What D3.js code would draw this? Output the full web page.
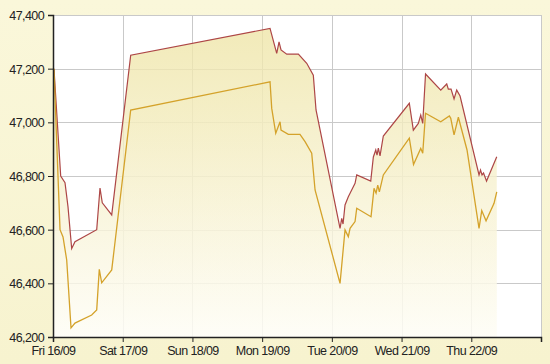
<!DOCTYPE html>
<html>
<head>
<meta charset="utf-8">
<script src="https://cdn.jsdelivr.net/npm/d3@7"></script>
<style>
  html, body { margin: 0; padding: 0; background: #f8f4d2; }
  svg { display: block; }
  .tick text { font-family: "Liberation Sans", Arial, sans-serif; font-size: 12.5px; fill: #222; letter-spacing: -0.6px; }
</style>
</head>
<body>
<svg id="chart" width="550" height="364"></svg>
<script>
// ---- data ----
const dayTicks = ["2016-09-16", "2016-09-17", "2016-09-18", "2016-09-19", "2016-09-20", "2016-09-21", "2016-09-22", "2016-09-23"];
const dayLabels = ["Fri 16/09", "Sat 17/09", "Sun 18/09", "Mon 19/09", "Tue 20/09", "Wed 21/09", "Thu 22/09", ""];
const yTicks = [46200, 46400, 46600, 46800, 47000, 47200, 47400];

const sellTimes = [
  "2016-09-16 00:20", "2016-09-16 02:39", "2016-09-16 04:08", "2016-09-16 05:10", "2016-09-16 06:26",
  "2016-09-16 07:34", "2016-09-16 15:03", "2016-09-16 16:11", "2016-09-16 16:58", "2016-09-16 20:13",
  "2016-09-17 02:45", "2016-09-19 02:43", "2016-09-19 05:01", "2016-09-19 05:49", "2016-09-19 06:30",
  "2016-09-19 08:28", "2016-09-19 12:28", "2016-09-19 15:21", "2016-09-19 17:37", "2016-09-19 18:33",
  "2016-09-20 02:49", "2016-09-20 03:24", "2016-09-20 03:51", "2016-09-20 04:32", "2016-09-20 05:40",
  "2016-09-20 06:16", "2016-09-20 07:59", "2016-09-20 08:34", "2016-09-20 13:23", "2016-09-20 14:17",
  "2016-09-20 15:07", "2016-09-20 15:33", "2016-09-20 16:00", "2016-09-20 16:35", "2016-09-20 17:43",
  "2016-09-21 02:40", "2016-09-21 04:03", "2016-09-21 05:46", "2016-09-21 06:36", "2016-09-21 07:17",
  "2016-09-21 08:15", "2016-09-21 13:29", "2016-09-21 15:33", "2016-09-21 16:06", "2016-09-21 17:02",
  "2016-09-21 18:04", "2016-09-21 18:59", "2016-09-21 20:08", "2016-09-22 02:40", "2016-09-22 03:11",
  "2016-09-22 03:42", "2016-09-22 04:13", "2016-09-22 05:15", "2016-09-22 08:46"
];
const sellValues = [
  47200, 46800, 46775, 46685, 46530,
  46555, 46600, 46755, 46700, 46655,
  47250, 47350, 47257, 47300, 47270,
  47254, 47254, 47220, 47176, 47046,
  46605, 46642, 46621, 46692, 46723,
  46736, 46773, 46804, 46781, 46871,
  46897, 46878, 46904, 46875, 46949,
  47071, 46971, 46996, 47027, 46996,
  47180, 47120, 47143, 47124, 47124,
  47087, 47120, 47098, 46804, 46822,
  46804, 46811, 46781, 46872
];

const buyTimes = [
  "2016-09-16 00:20", "2016-09-16 02:25", "2016-09-16 03:27", "2016-09-16 04:43", "2016-09-16 06:12",
  "2016-09-16 07:34", "2016-09-16 13:19", "2016-09-16 15:03", "2016-09-16 15:56", "2016-09-16 16:46",
  "2016-09-16 20:13", "2016-09-17 02:45", "2016-09-19 02:43", "2016-09-19 03:18", "2016-09-19 04:41",
  "2016-09-19 06:10", "2016-09-19 06:30", "2016-09-19 09:01", "2016-09-19 13:02", "2016-09-19 14:46",
  "2016-09-19 17:04", "2016-09-19 18:13", "2016-09-20 02:49", "2016-09-20 04:32", "2016-09-20 05:40",
  "2016-09-20 06:16", "2016-09-20 07:59", "2016-09-20 08:34", "2016-09-20 13:29", "2016-09-20 14:31",
  "2016-09-20 15:13", "2016-09-20 15:48", "2016-09-20 16:21", "2016-09-20 17:43", "2016-09-21 02:40",
  "2016-09-21 04:07", "2016-09-21 06:36", "2016-09-21 07:17", "2016-09-21 08:15", "2016-09-21 13:29",
  "2016-09-21 16:27", "2016-09-21 16:56", "2016-09-21 18:04", "2016-09-21 19:33", "2016-09-21 22:32",
  "2016-09-22 02:40", "2016-09-22 03:36", "2016-09-22 05:05", "2016-09-22 07:50", "2016-09-22 08:46"
];
const buyValues = [
  47200, 46600, 46573, 46487, 46234,
  46252, 46282, 46301, 46452, 46402,
  46450, 47046, 47151, 47052, 46959,
  47002, 46971, 46955, 46955, 46928,
  46885, 46748, 46400, 46599, 46574,
  46605, 46630, 46680, 46648, 46754,
  46736, 46766, 46741, 46804, 46941,
  46843, 46903, 46885, 47034, 47002,
  47024, 47015, 46953, 47019, 46897,
  46605, 46671, 46633, 46698, 46741
];

// ---- chart ----
const W = 550, H = 364;
const m = { left: 53, top: 15, right: 9, bottom: 27 };
const parse = d3.timeParse("%Y-%m-%d %H:%M");
const parseDay = d3.timeParse("%Y-%m-%d");
const ticksX = dayTicks.map(parseDay);

const x = d3.scaleTime().domain([ticksX[0], ticksX[ticksX.length - 1]]).range([m.left, W - m.right]);
const y = d3.scaleLinear().domain([46200, 47400]).range([H - m.bottom, m.top]);

const sell = sellTimes.map((t, i) => ({ t: parse(t), v: sellValues[i] }));
const buy = buyTimes.map((t, i) => ({ t: parse(t), v: buyValues[i] }));

const svg = d3.select("#chart");
const defs = svg.append("defs");

const bgGrad = defs.append("linearGradient").attr("id", "bgGrad")
  .attr("x1", 0).attr("y1", 0).attr("x2", 0).attr("y2", 1);
bgGrad.append("stop").attr("offset", 0).attr("stop-color", "#faf7da");
bgGrad.append("stop").attr("offset", 1).attr("stop-color", "#f7f3cf");
svg.append("rect").attr("width", W).attr("height", H).attr("fill", "url(#bgGrad)");

// plot background
svg.append("rect")
  .attr("x", m.left).attr("y", m.top)
  .attr("width", W - m.left - m.right).attr("height", H - m.top - m.bottom)
  .attr("fill", "#ffffff");

const areaGrad = defs.append("linearGradient").attr("id", "areaGrad")
  .attr("gradientUnits", "userSpaceOnUse")
  .attr("x1", 0).attr("y1", m.top).attr("x2", 0).attr("y2", H - m.bottom);
areaGrad.append("stop").attr("offset", 0).attr("stop-color", "#eee4a4");
areaGrad.append("stop").attr("offset", 1).attr("stop-color", "#fefdf6");

// grid
svg.append("g").selectAll("line.h").data(yTicks).join("line")
  .attr("x1", m.left).attr("x2", W - m.right)
  .attr("y1", d => Math.round(y(d)) + 0.5).attr("y2", d => Math.round(y(d)) + 0.5)
  .attr("stroke", "#c9c9c9").attr("stroke-width", 1);
svg.append("g").selectAll("line.v").data(ticksX).join("line")
  .attr("y1", m.top).attr("y2", H - m.bottom)
  .attr("x1", d => Math.round(x(d)) + 0.5).attr("x2", d => Math.round(x(d)) + 0.5)
  .attr("stroke", "#c9c9c9").attr("stroke-width", 1);

// areas
const area = d3.area().x(d => x(d.t)).y0(y(46200)).y1(d => y(d.v));
svg.append("path").datum(sell).attr("d", area).attr("fill", "url(#areaGrad)").attr("opacity", 0.8);
svg.append("path").datum(buy).attr("d", area).attr("fill", "url(#areaGrad)").attr("opacity", 0.3);

// lines
const line = d3.line().x(d => x(d.t)).y(d => y(d.v));
svg.append("path").datum(sell).attr("d", line)
  .attr("fill", "none").attr("stroke", "#ad4646").attr("stroke-width", 1.2);
svg.append("path").datum(buy).attr("d", line)
  .attr("fill", "none").attr("stroke", "#d4a22a").attr("stroke-width", 1.3);

// axes
const fmt = d3.format(",");
const yAxis = d3.axisLeft(y).tickValues(yTicks).tickFormat(fmt).tickSize(5).tickPadding(4);
const xAxis = d3.axisBottom(x).tickValues(ticksX).tickFormat((d, i) => dayLabels[i]).tickSize(5).tickPadding(4);

const gy = svg.append("g").attr("transform", `translate(${m.left},0)`).call(yAxis);
const gx = svg.append("g").attr("transform", `translate(0,${H - m.bottom})`).call(xAxis);
[gx, gy].forEach(g => {
  g.select(".domain").attr("stroke", "#222").attr("stroke-width", 1.5);
  g.selectAll(".tick line").attr("stroke", "#222");
});
gy.selectAll(".tick text").attr("dy", "0.36em");
</script>
</body>
</html>
